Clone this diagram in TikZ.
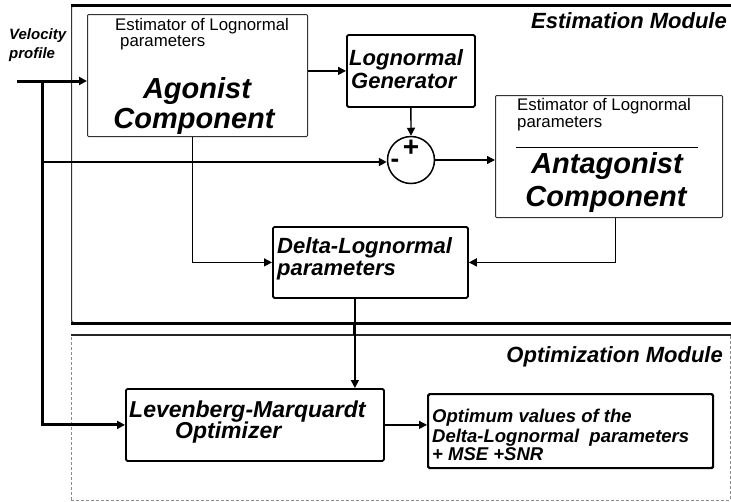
\documentclass[tikz,border=0pt]{standalone}
\usepackage{fontspec}
\setmainfont{Liberation Sans}
\usetikzlibrary{arrows.meta}
\tikzset{
  fbig/.style={font=\fontsize{29}{30}\selectfont\bfseries\itshape},
  fmid/.style={font=\fontsize{22}{24}\selectfont\bfseries\itshape},
  fest/.style={font=\fontsize{16.8}{18}\selectfont},
  fopt/.style={font=\fontsize{18.5}{20}\selectfont\bfseries\itshape},
  fvel/.style={font=\fontsize{15}{16}\selectfont\bfseries\itshape},
  txt/.style={inner sep=0pt, anchor=base west},
  thinbox/.style={draw=black!80, line width=1pt, rectangle, inner sep=0pt, anchor=north west, rounded corners=1pt},
  boldbox/.style={draw=black, line width=1.8pt, rectangle, inner sep=0pt, anchor=north west, rounded corners=1.5pt},
  tip/.style={-{Triangle[length=8pt,width=8pt]}},
  conn/.style={line width=1.4pt, tip},
  mainin/.style={line width=3pt, tip},
}
\begin{document}
\begin{tikzpicture}[x=1pt,y=-1pt]
\clip (0,0) rectangle (731,501);
\fill[white] (0,0) rectangle (731,501);

% modules
\node[draw=black!80, line width=1.2pt, rectangle, inner sep=0pt, anchor=north west,
      minimum width=690pt, minimum height=317pt, rounded corners=2pt] (est) at (71,5) {};
\draw[line width=3pt] (est.north west) -- (est.north east);
\draw[line width=3pt] (est.south west) -- (est.south east);
\node[draw=black!45, line width=0.8pt, densely dashed, rectangle, inner sep=0pt, anchor=north west,
      minimum width=659pt, minimum height=165pt] (optm) at (71,335) {};
\draw[line width=1.8pt, black!85] (optm.north west) -- (optm.north east);

\node[fmid, inner sep=0pt, anchor=base east] (estlbl) at (727,28) {Estimation Module};
\node[fmid, inner sep=0pt, anchor=base east] (optlbl) at (723,362) {Optimization Module};

% boxes
\node[thinbox, minimum width=220pt, minimum height=122pt] (ago) at (87,14) {};
\node[boldbox, minimum width=128pt, minimum height=72pt] (lg) at (346,34) {};
\node[thinbox, minimum width=227pt, minimum height=122pt] (ant) at (495,95) {};
\node[boldbox, minimum width=195pt, minimum height=71pt] (delta) at (272,226) {};
\node[boldbox, minimum width=258pt, minimum height=72pt] (lm) at (125,388) {};
\node[boldbox, line width=2.2pt, minimum width=285pt, minimum height=74pt] (opt) at (427,393) {};
\node[draw, circle, line width=1.5pt, minimum size=47pt, inner sep=0pt] (sum) at (411,160) {};

% texts
\node[txt, fvel] (vel1) at (9,39) {Velocity};
\node[txt, fvel] (vel2) at (9,58) {profile};

\node[txt, fest] (agoe1) at (115,30) {Estimator of Lognormal};
\node[txt, fest] (agoe2) at (120,46) {parameters};
\node[fbig, inner sep=0pt, anchor=base] (agot1) at (197,98) {Agonist};
\node[fbig, inner sep=0pt, anchor=base] (agot2) at (194,128) {Component};

\node[txt, fmid] (lgt1) at (349,65) {Lognormal};
\node[txt, fmid] (lgt2) at (351,88) {Generator};

\node[txt, fest] (ante1) at (517,110) {Estimator of Lognormal};
\node[txt, fest] (ante2) at (517,127) {parameters};
\draw[line width=1pt] (516,147) -- (698,147);
\node[fbig, inner sep=0pt, anchor=base] (antt1) at (607,173) {Antagonist};
\node[fbig, inner sep=0pt, anchor=base] (antt2) at (606,206) {Component};

\node[txt, fmid] (dt1) at (277,253) {Delta-Lognormal};
\node[txt, fmid] (dt2) at (277,275) {parameters};

\node[txt, font=\fontsize{23}{24}\selectfont\bfseries\itshape] (lmt1) at (129,417) {Levenberg-Marquardt};
\node[txt, font=\fontsize{23}{24}\selectfont\bfseries\itshape] (lmt2) at (175,438) {Optimizer};

\node[txt, fopt] (ot1) at (432,422) {Optimum values of the};
\node[txt, fopt] (ot2) at (432,442) {Delta-Lognormal\ \ parameters};
\node[txt, fopt] (ot3) at (432,460) {+ MSE +SNR};

\node[font=\fontsize{28}{28}\selectfont\bfseries, inner sep=0pt] (plus) at (411,148) {+};
\node[font=\fontsize{26}{26}\selectfont\bfseries, inner sep=0pt] (minus) at (395,163) {-};

% connectors
\coordinate (vin) at (17,81);
\coordinate (j1) at (42,81);
\coordinate (j2) at (42,162);
\draw[mainin] (vin) -- (vin -| ago.west);
\draw[mainin] (j1) |- (lm.west);
\draw[line width=2pt, tip] (j2) -- (j2 -| sum.west);
\draw[conn] (lg.west -| ago.east) -- (lg.west);
\draw[conn] (lg.south) -- (sum.north);
\draw[conn] (sum.east) -- (sum.east -| ant.west);
\draw[conn] ([xshift=-5pt]ago.south) |- (delta.west);
\draw[conn] ([xshift=6.5pt]ant.south) |- (delta.east);
\coordinate (d1) at ([xshift=-15.5pt]delta.south);
\draw[conn] (d1) -- (d1 |- lm.north);
\draw[line width=3pt] (d1 |- est.south) -- (d1 |- optm.north);
\draw[conn] (lm.east) -- (lm.east -| opt.west);
\end{tikzpicture}
\end{document}
